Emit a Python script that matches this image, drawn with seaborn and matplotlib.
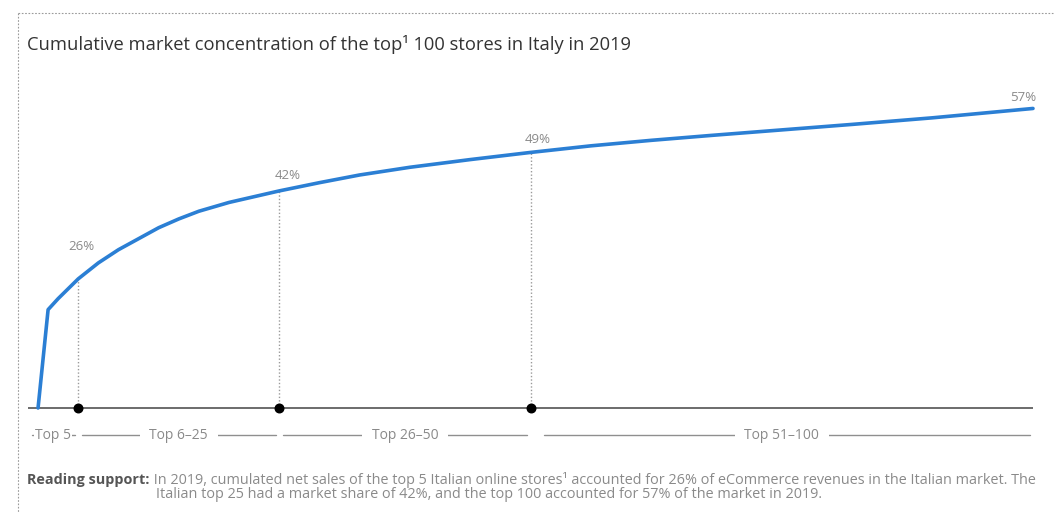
import matplotlib
matplotlib.use("Agg")
import matplotlib.pyplot as plt
import matplotlib.transforms as mtransforms
from matplotlib.lines import Line2D
import seaborn as sns
import pandas as pd

# ---- data ----
ranks = [1, 2, 3, 4, 5, 7, 9, 11, 13, 15, 17, 20, 25, 29, 33, 38, 44, 50, 56, 62, 68, 75, 82, 90, 100]
share = [2.5, 20.4, 22.4, 24.2, 26, 28.9, 31.3, 33.3, 35.3, 36.9, 38.3, 39.9, 42, 43.5, 44.9,
         46.3, 47.7, 49, 50.2, 51.2, 52.1, 53.1, 54.1, 55.3, 57]
marker_ranks = [5, 25, 50, 100]
marker_labels = ["26%", "42%", "49%", "57%"]
marker_values = [26, 42, 49, 57]
seg_bounds = [0, 5, 25, 50, 100]
seg_labels = ["Top 5", "Top 6\u201325", "Top 26\u201350", "Top 51\u2013100"]
title = "Cumulative market concentration of the top\u00b9 100 stores in Italy in 2019"
note_bold = "Reading support:"
note_line1 = (" In 2019, cumulated net sales of the top 5 Italian online stores\u00b9 accounted for 26% "
              "of eCommerce revenues in the Italian market. The")
note_line2 = "Italian top 25 had a market share of 42%, and the top 100 accounted for 57% of the market in 2019."

sns.set_theme(style="white")
plt.rcParams["font.family"] = ["Open Sans", "DejaVu Sans"]

W, H = 1054, 512
fig = plt.figure(figsize=(W / 100, H / 100), dpi=100)
fig.patch.set_facecolor("white")

# axes placement (pixels)
x0, x1 = 28, 1033
yb, yt = 408, 90
ax = fig.add_axes([x0 / W, (H - yb) / H, (x1 - x0) / W, (yb - yt) / H])
ymin, ymax = 2.5, 60.36
ax.set_xlim(0, 100)
ax.set_ylim(ymin, ymax)
for s in ax.spines.values():
    s.set_visible(False)
ax.set_xticks([])
ax.set_yticks([])

df = pd.DataFrame({"rank": ranks, "share": share})

# dotted verticals
ax.vlines(marker_ranks[:3], ymin, marker_values[:3], colors="#9a9a9a",
          linestyles=(0, (1, 1.5)), linewidth=1, zorder=1)

# baseline
ax.hlines(ymin, 0, 100, colors="#6b6b6b", linewidth=1.4, zorder=2, clip_on=False)

# curve
sns.lineplot(data=df, x="rank", y="share", ax=ax, color="#2b7fd4", linewidth=2.6,
             zorder=3, legend=False)
ax.lines[-1].set_solid_joinstyle("round")
ax.lines[-1].set_clip_on(False)
ax.set_xlabel("")
ax.set_ylabel("")

# black dots
ax.scatter(marker_ranks[:3], [ymin] * 3, s=38, color="black", zorder=4, clip_on=False)

# value labels
offsets = [(2, 23), (6, 11), (5, 9), (2, 8)]
for r, v, lab, off in zip(marker_ranks, marker_values, marker_labels, offsets):
    ha = "right" if r == 100 else "center"
    ax.annotate(lab, (r, v), xytext=off, textcoords="offset points", ha=ha, va="center",
                fontsize=9.5, color="#8a8a8a")

# segment labels below axis
trans = mtransforms.blended_transform_factory(ax.transData, ax.transAxes)
yseg = -0.085
pads = [0.8, 7, 7, 7]
for i, lab in enumerate(seg_labels):
    lo, hi = seg_bounds[i], seg_bounds[i + 1]
    lo_pad = 1.3 if i == 3 else 0.4
    ax.plot([lo + lo_pad, hi - 0.3], [yseg, yseg], transform=trans, color="#8f8f8f",
            linewidth=1, clip_on=False)
    ax.text((lo + hi) / 2, yseg, lab, transform=trans, ha="center", va="center",
            fontsize=10, color="#8a8a8a",
            bbox=dict(facecolor="white", edgecolor="none", pad=pads[i]))

# title
fig.text(27 / W, 1 - 45 / H, title, ha="left", va="center", fontsize=13.2, color="#333333")

# reading support note
fs = 10.35
t1 = fig.text(27 / W, 1 - 480 / H, note_bold, ha="left", va="center", fontsize=fs,
              color="#555555", fontweight="bold")
fig.canvas.draw()
bb = t1.get_window_extent()
fig.text(bb.x1 / W, 1 - 480 / H, note_line1, ha="left", va="center", fontsize=fs, color="#8a8a8a")
fig.text((bb.x1 + 6) / W, 1 - 495 / H, note_line2, ha="left", va="center", fontsize=fs,
         color="#8a8a8a")

# dotted frame (top and left)
fig.add_artist(Line2D([18 / W, 1.0], [1 - 13 / H, 1 - 13 / H], transform=fig.transFigure,
                      color="#9a9a9a", linewidth=0.8, linestyle=(0, (1.5, 1.5))))
fig.add_artist(Line2D([18 / W, 18 / W], [1 - 13 / H, 0.0], transform=fig.transFigure,
                      color="#9a9a9a", linewidth=0.8, linestyle=(0, (1.5, 1.5))))

fig.savefig("out.png", dpi=100, facecolor="white")
